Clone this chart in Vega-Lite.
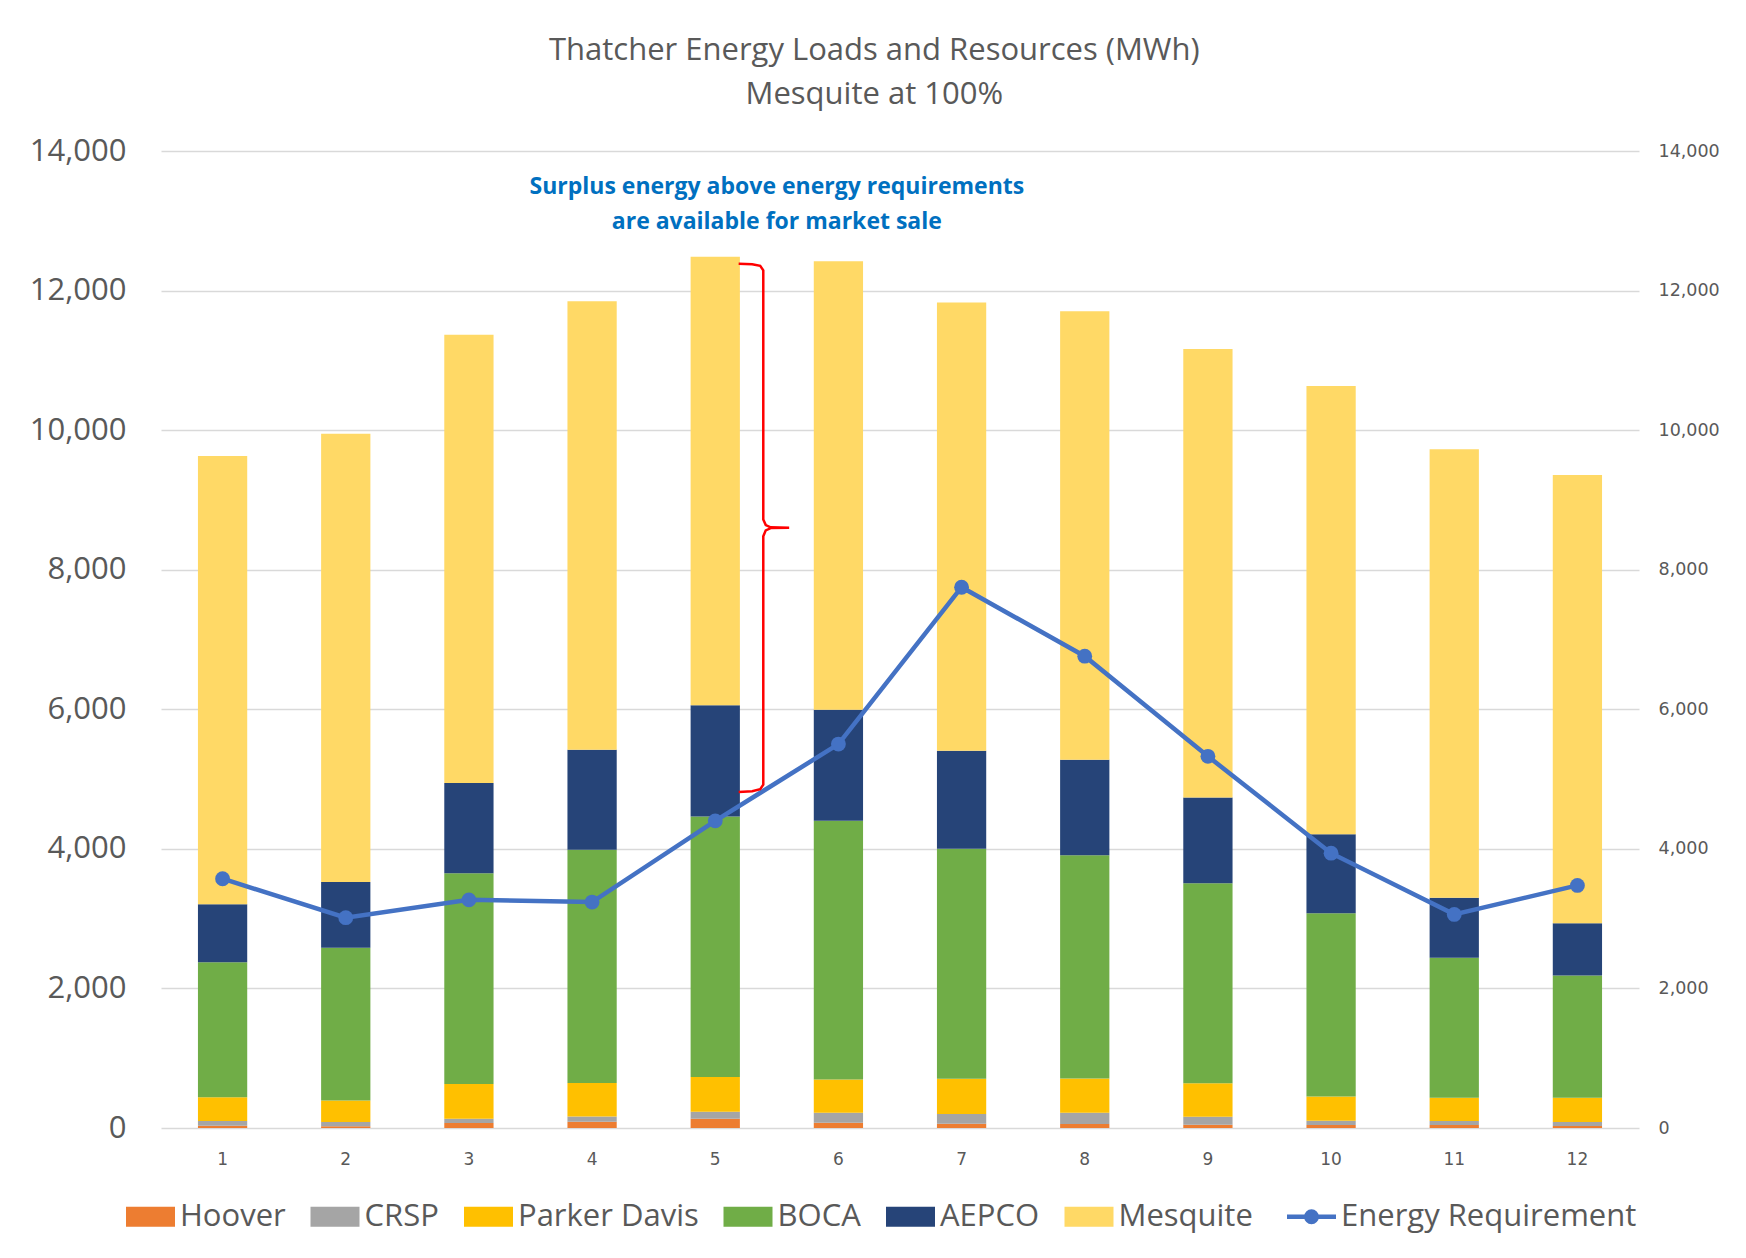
{
  "$schema": "https://vega.github.io/schema/vega-lite/v6.json",
  "width": 1478,
  "height": 977,
  "autosize": {"type": "none"},
  "padding": {"left": 161, "top": 151, "right": 107, "bottom": 130},
  "background": "white",
  "config": {"view": {"stroke": null}},
  "title": {
    "text": ["Thatcher Energy Loads and Resources (MWh)", "Mesquite at 100%"],
    "font": "Open Sans", "fontSize": 31, "fontWeight": "normal", "color": "#595959",
    "lineHeight": 44, "anchor": "middle", "frame": "bounds", "offset": 24
  },
  "datasets": {
    "main": [
      {"month": 1, "series": "Hoover", "value": 33}, {"month": 2, "series": "Hoover", "value": 24}, {"month": 3, "series": "Hoover", "value": 72}, {"month": 4, "series": "Hoover", "value": 91}, {"month": 5, "series": "Hoover", "value": 134}, {"month": 6, "series": "Hoover", "value": 76}, {"month": 7, "series": "Hoover", "value": 60}, {"month": 8, "series": "Hoover", "value": 57}, {"month": 9, "series": "Hoover", "value": 48}, {"month": 10, "series": "Hoover", "value": 43}, {"month": 11, "series": "Hoover", "value": 43}, {"month": 12, "series": "Hoover", "value": 29},
      {"month": 1, "series": "CRSP", "value": 67}, {"month": 2, "series": "CRSP", "value": 62}, {"month": 3, "series": "CRSP", "value": 62}, {"month": 4, "series": "CRSP", "value": 72}, {"month": 5, "series": "CRSP", "value": 100}, {"month": 6, "series": "CRSP", "value": 143}, {"month": 7, "series": "CRSP", "value": 140}, {"month": 8, "series": "CRSP", "value": 162}, {"month": 9, "series": "CRSP", "value": 114}, {"month": 10, "series": "CRSP", "value": 62}, {"month": 11, "series": "CRSP", "value": 57}, {"month": 12, "series": "CRSP", "value": 57},
      {"month": 1, "series": "Parker Davis", "value": 340}, {"month": 2, "series": "Parker Davis", "value": 309}, {"month": 3, "series": "Parker Davis", "value": 496}, {"month": 4, "series": "Parker Davis", "value": 482}, {"month": 5, "series": "Parker Davis", "value": 496}, {"month": 6, "series": "Parker Davis", "value": 476}, {"month": 7, "series": "Parker Davis", "value": 505}, {"month": 8, "series": "Parker Davis", "value": 491}, {"month": 9, "series": "Parker Davis", "value": 478}, {"month": 10, "series": "Parker Davis", "value": 345}, {"month": 11, "series": "Parker Davis", "value": 332}, {"month": 12, "series": "Parker Davis", "value": 346},
      {"month": 1, "series": "BOCA", "value": 1936}, {"month": 2, "series": "BOCA", "value": 2188}, {"month": 3, "series": "BOCA", "value": 3021}, {"month": 4, "series": "BOCA", "value": 3341}, {"month": 5, "series": "BOCA", "value": 3735}, {"month": 6, "series": "BOCA", "value": 3706}, {"month": 7, "series": "BOCA", "value": 3297}, {"month": 8, "series": "BOCA", "value": 3197}, {"month": 9, "series": "BOCA", "value": 2868}, {"month": 10, "series": "BOCA", "value": 2627}, {"month": 11, "series": "BOCA", "value": 2008}, {"month": 12, "series": "BOCA", "value": 1752},
      {"month": 1, "series": "AEPCO", "value": 829}, {"month": 2, "series": "AEPCO", "value": 941}, {"month": 3, "series": "AEPCO", "value": 1292}, {"month": 4, "series": "AEPCO", "value": 1435}, {"month": 5, "series": "AEPCO", "value": 1594}, {"month": 6, "series": "AEPCO", "value": 1594}, {"month": 7, "series": "AEPCO", "value": 1403}, {"month": 8, "series": "AEPCO", "value": 1371}, {"month": 9, "series": "AEPCO", "value": 1228}, {"month": 10, "series": "AEPCO", "value": 1132}, {"month": 11, "series": "AEPCO", "value": 861}, {"month": 12, "series": "AEPCO", "value": 750},
      {"month": 1, "series": "Mesquite", "value": 6425}, {"month": 2, "series": "Mesquite", "value": 6425}, {"month": 3, "series": "Mesquite", "value": 6425}, {"month": 4, "series": "Mesquite", "value": 6425}, {"month": 5, "series": "Mesquite", "value": 6425}, {"month": 6, "series": "Mesquite", "value": 6425}, {"month": 7, "series": "Mesquite", "value": 6425}, {"month": 8, "series": "Mesquite", "value": 6425}, {"month": 9, "series": "Mesquite", "value": 6425}, {"month": 10, "series": "Mesquite", "value": 6425}, {"month": 11, "series": "Mesquite", "value": 6425}, {"month": 12, "series": "Mesquite", "value": 6425},
      {"month": 1, "series": "Energy Requirement", "value": 3572}, {"month": 2, "series": "Energy Requirement", "value": 3014}, {"month": 3, "series": "Energy Requirement", "value": 3269}, {"month": 4, "series": "Energy Requirement", "value": 3237}, {"month": 5, "series": "Energy Requirement", "value": 4401}, {"month": 6, "series": "Energy Requirement", "value": 5501}, {"month": 7, "series": "Energy Requirement", "value": 7749}, {"month": 8, "series": "Energy Requirement", "value": 6761}, {"month": 9, "series": "Energy Requirement", "value": 5326}, {"month": 10, "series": "Energy Requirement", "value": 3938}, {"month": 11, "series": "Energy Requirement", "value": 3061}, {"month": 12, "series": "Energy Requirement", "value": 3476}
    ],
    "note": [
      {"label": "Surplus energy above energy requirements\nare available for market sale", "ax": 5.5, "ay": 13479}
    ],
    "brace": [
      {"i": 1, "bx": 5.19, "by": 12385}, {"i": 2, "bx": 5.30, "by": 12378}, {"i": 3, "bx": 5.365, "by": 12355}, {"i": 4, "bx": 5.39, "by": 12290},
      {"i": 5, "bx": 5.39, "by": 8720}, {"i": 6, "bx": 5.41, "by": 8640}, {"i": 7, "bx": 5.45, "by": 8608}, {"i": 8, "bx": 5.60, "by": 8602},
      {"i": 9, "bx": 5.45, "by": 8596}, {"i": 10, "bx": 5.41, "by": 8564}, {"i": 11, "bx": 5.39, "by": 8480}, {"i": 12, "bx": 5.39, "by": 4920},
      {"i": 13, "bx": 5.365, "by": 4855}, {"i": 14, "bx": 5.30, "by": 4825}, {"i": 15, "bx": 5.19, "by": 4815}
    ]
  },
  "layer": [
    {
      "data": {"name": "main"},
      "transform": [
        {"filter": "datum.series !== 'Energy Requirement'"},
        {"calculate": "indexof(['Hoover', 'CRSP', 'Parker Davis', 'BOCA', 'AEPCO', 'Mesquite'], datum.series)", "as": "stackOrder"}
      ],
      "mark": {"type": "bar"},
      "encoding": {
        "x": {"field": "month", "type": "ordinal", "scale": {"type": "band", "paddingInner": 0.6, "paddingOuter": 0.3},
              "axis": {"orient": "bottom", "title": null, "labelAngle": 0, "labelFont": "DejaVu Sans", "labelFontSize": 17, "labelColor": "#595959", "labelPadding": 23, "ticks": false, "domain": false}},
        "y": {"field": "value", "type": "quantitative", "stack": "zero", "scale": {"domain": [0, 14000], "nice": false},
              "axis": {"orient": "left", "title": null, "values": [0, 2000, 4000, 6000, 8000, 10000, 12000, 14000], "format": ",.0f", "labelFont": "Open Sans", "labelFontSize": 31, "labelColor": "#595959", "labelPadding": 35, "ticks": false, "domain": false, "grid": true, "gridColor": "#D9D9D9", "gridWidth": 1.5}},
        "order": {"field": "stackOrder", "type": "quantitative", "sort": "ascending"},
        "color": {"field": "series", "type": "nominal",
                  "sort": ["Hoover", "CRSP", "Parker Davis", "BOCA", "AEPCO", "Mesquite", "Energy Requirement"],
                  "scale": {"domain": ["Hoover", "CRSP", "Parker Davis", "BOCA", "AEPCO", "Mesquite", "Energy Requirement"],
                            "range": ["#ED7D31", "#A5A5A5", "#FFC000", "#70AD47", "#264478", "#FFD966", "#4472C4"]},
                  "legend": {
                    "orient": "none", "legendX": -26, "legendY": 1050, "direction": "horizontal", "columns": 7, "title": null, "padding": 0,
                    "labelFont": "Open Sans", "labelFontSize": 31, "labelColor": "#595959", "labelLimit": 500, "labelOffset": 14,
                    "columnPadding": 24.5, "symbolSize": 2401, "symbolType": "M-1,-0.41H1V0.41H-1Z",
                    "encode": {"symbols": {"update": {
                      "shape": {"signal": "datum.value === 'Energy Requirement' ? 'M-1,0H1M0.21,0A0.21,0.21,0,1,1,-0.21,0A0.21,0.21,0,1,1,0.21,0Z' : 'M-1,-0.41H1V0.41H-1Z'"},
                      "fill": {"scale": "color", "field": "value"},
                      "stroke": {"scale": "color", "field": "value"},
                      "strokeWidth": {"signal": "datum.value === 'Energy Requirement' ? 4.5 : 0"},
                      "opacity": {"value": 1}
                    }}}
                  }}
      }
    },
    {
      "data": {"name": "main"},
      "transform": [{"filter": "datum.series === 'Energy Requirement'"}],
      "mark": {"type": "line", "strokeWidth": 4.5, "point": {"filled": true, "size": 220}},
      "encoding": {
        "x": {"field": "month", "type": "ordinal", "scale": {"type": "band", "paddingInner": 0.6, "paddingOuter": 0.3}, "axis": null},
        "y": {"field": "value", "type": "quantitative", "scale": {"domain": [0, 14000], "nice": false},
              "axis": {"orient": "right", "title": null, "values": [0, 2000, 4000, 6000, 8000, 10000, 12000, 14000], "format": ",.0f", "labelFont": "DejaVu Sans", "labelFontSize": 17.5, "labelColor": "#595959", "labelPadding": 19, "ticks": false, "domain": false, "grid": false}},
        "color": {"field": "series", "type": "nominal",
                  "sort": ["Hoover", "CRSP", "Parker Davis", "BOCA", "AEPCO", "Mesquite", "Energy Requirement"],
                  "scale": {"domain": ["Hoover", "CRSP", "Parker Davis", "BOCA", "AEPCO", "Mesquite", "Energy Requirement"],
                            "range": ["#ED7D31", "#A5A5A5", "#FFC000", "#70AD47", "#264478", "#FFD966", "#4472C4"]}}
      }
    },
    {
      "data": {"name": "note"},
      "mark": {"type": "text", "font": "Open Sans", "fontSize": 23, "fontWeight": "bold", "color": "#0070C0", "lineBreak": "\n", "lineHeight": 35, "align": "center", "baseline": "middle"},
      "encoding": {
        "x": {"field": "ax", "type": "quantitative", "scale": {"domain": [0.5, 12.5], "nice": false, "zero": false}, "axis": null},
        "y": {"field": "ay", "type": "quantitative", "scale": {"domain": [0, 14000], "nice": false}, "axis": null},
        "text": {"field": "label"}
      }
    },
    {
      "data": {"name": "brace"},
      "mark": {"type": "line", "color": "#FF0000", "strokeWidth": 2.5},
      "encoding": {
        "x": {"field": "bx", "type": "quantitative", "scale": {"domain": [0.5, 12.5], "nice": false, "zero": false}, "axis": null},
        "y": {"field": "by", "type": "quantitative", "scale": {"domain": [0, 14000], "nice": false}, "axis": null},
        "order": {"field": "i", "type": "quantitative"}
      }
    }
  ],
  "resolve": {"scale": {"x": "independent"}, "axis": {"x": "independent", "y": "independent"}}
}
